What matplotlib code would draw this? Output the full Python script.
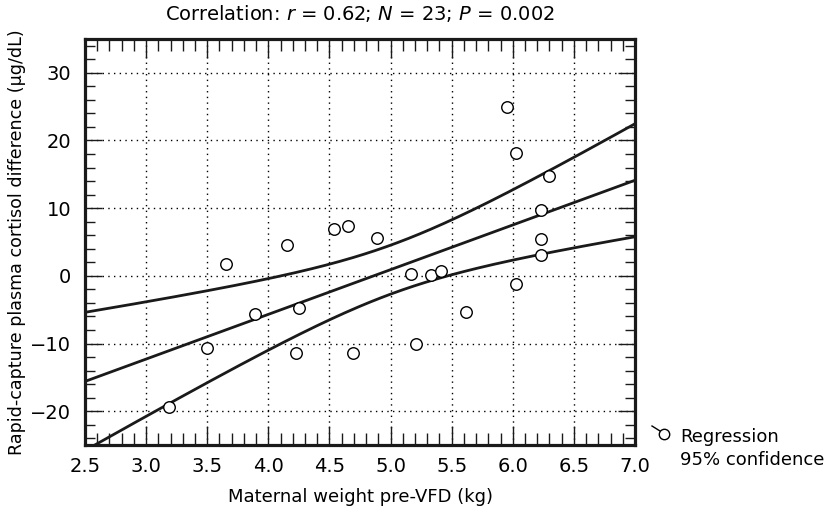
import numpy as np
import matplotlib
matplotlib.use("Agg")
import matplotlib.pyplot as plt
from matplotlib.lines import Line2D

plt.rcParams['font.family'] = ['DejaVu Sans']
plt.rcParams['mathtext.fontset'] = 'dejavusans'

# Data
weight_kg = [3.19, 3.50, 3.65, 3.89, 4.15, 4.23, 4.25, 4.54, 4.65, 4.69, 4.89,
             5.17, 5.21, 5.33, 5.41, 5.62, 5.95, 6.03, 6.03, 6.23, 6.23, 6.23, 6.30]
cortisol_diff = [-19.4, -10.7, 1.8, -5.6, 4.5, -11.4, -4.8, 6.9, 7.4, -11.4, 5.6,
                 0.3, -10.0, 0.05, 0.65, -5.4, 24.9, 18.2, -1.2, 9.7, 5.5, 3.1, 14.7]
x_ticks = [2.5, 3.0, 3.5, 4.0, 4.5, 5.0, 5.5, 6.0, 6.5, 7.0]
y_ticks = [-20, -10, 0, 10, 20, 30]
t_crit = 2.080  # t(0.975, df=21)

x = np.array(weight_kg)
y = np.array(cortisol_diff)
n = len(x)
slope, intercept = np.polyfit(x, y, 1)
resid = y - (slope * x + intercept)
s = np.sqrt(np.sum(resid ** 2) / (n - 2))
sxx = np.sum((x - x.mean()) ** 2)
xg = np.linspace(2.5, 7.0, 200)
yfit = slope * xg + intercept
half = t_crit * s * np.sqrt(1.0 / n + (xg - x.mean()) ** 2 / sxx)

fig = plt.figure(figsize=(8.35, 5.19), dpi=100)
ax = fig.add_axes([85 / 835, 74 / 519, 550 / 835, 406 / 519])

ax.set_xlim(2.5, 7.0)
ax.set_ylim(-25, 35)

dot = (0, (1, 3.1))
for xv in x_ticks[1:-1]:
    ax.axvline(xv, color='black', lw=1.0, ls=dot, zorder=1)
for yv in y_ticks:
    ax.axhline(yv, color='black', lw=1.0, ls=dot, zorder=1)

ax.plot(xg, yfit, color='#1a1a1a', lw=2.0, zorder=3)
ax.plot(xg, yfit + half, color='#1a1a1a', lw=2.0, zorder=3)
ax.plot(xg, yfit - half, color='#1a1a1a', lw=2.0, zorder=3)

ax.plot(x, y, 'o', ms=8.3, mfc='white', mec='black', mew=1.0, zorder=4)

ax.set_xticks(x_ticks)
ax.set_xticklabels([f"{v:.1f}" for v in x_ticks])
ax.set_yticks(y_ticks)
ax.set_xticks(np.arange(2.5, 7.01, 0.1), minor=True)
ax.set_yticks(np.arange(-24, 35, 2), minor=True)

ax.tick_params(which='both', direction='in', top=True, right=True, color='#1a1a1a')
ax.tick_params(axis='x', which='major', length=13.7, width=1.0, labelsize=14, pad=9)
ax.tick_params(axis='x', which='minor', length=8.6, width=1.0)
ax.tick_params(axis='y', which='major', length=12.3, width=1.0, labelsize=14, pad=10)
ax.tick_params(axis='y', which='minor', length=7.2, width=1.0)

for sp in ax.spines.values():
    sp.set_linewidth(2.3)
    sp.set_color('#1a1a1a')

ax.set_xlabel("Maternal weight pre-VFD (kg)", fontsize=13, labelpad=8)
ax.set_ylabel("Rapid-capture plasma cortisol difference (µg/dL)", fontsize=12.6, labelpad=3)

fig.text(360 / 835, 1 - 14 / 519,
         "Correlation: $\\it{r}$ = 0.62; $\\it{N}$ = 23; $\\it{P}$ = 0.002",
         ha='center', va='center', fontsize=14)

# Legend-like annotation
fig.add_artist(Line2D([652 / 835, 660 / 835], [1 - 426 / 519, 1 - 431 / 519],
                      transform=fig.transFigure, color='black', lw=1.0))
fig.add_artist(Line2D([663.5 / 835], [1 - 433.5 / 519], transform=fig.transFigure,
                      marker='o', ms=7.5, mfc='white', mec='black', mew=1.0, ls='none'))
fig.text(680 / 835, 1 - 442 / 519, "Regression", fontsize=13, ha='left', va='baseline')
fig.text(680 / 835, 1 - 465 / 519, "95% confidence", fontsize=13, ha='left', va='baseline')

fig.savefig("out.png", dpi=100)
